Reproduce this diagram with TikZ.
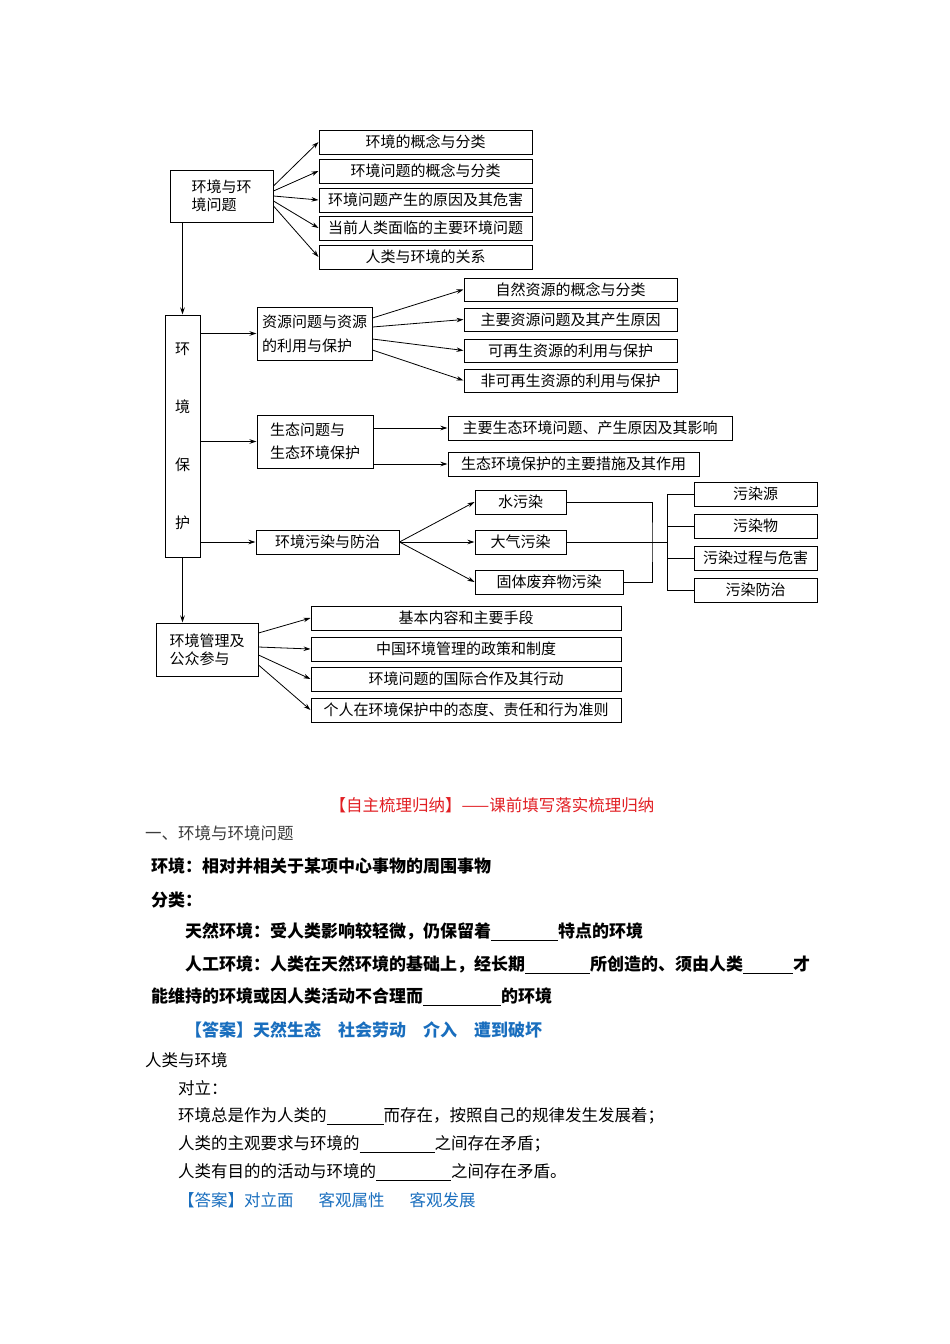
\documentclass[tikz,border=0pt]{standalone}
\usepackage{fontspec}
\setmainfont{Liberation Serif}
\newfontfamily\cjk{Noto Sans CJK SC}
\usetikzlibrary{arrows.meta}

\definecolor{titlered}{RGB}{225,30,35}
\definecolor{ansblue}{RGB}{25,110,190}
\definecolor{headgray}{RGB}{60,60,60}

\newcommand{\boxfont}{\cjk\fontsize{15}{18}\selectfont}
\newcommand{\txtfont}{\cjk\fontsize{16.5}{20}\selectfont}
\newcommand{\boldfont}{\cjk\fontsize{17}{20}\selectfont\bfseries}
\newcommand{\blank}[1]{\rule[-3pt]{#1pt}{0.9pt}}

\tikzset{
  box/.style={draw, line width=1pt, minimum height=24pt, inner sep=0pt, font=\boxfont},
  bigbox/.style={box, align=left, minimum height=53pt},
  conn/.style={line width=0.8pt},
  txt/.style={anchor=west, inner sep=0pt, font=\txtfont},
  boldtxt/.style={txt, font=\boldfont}
}

\begin{document}
\begin{tikzpicture}[x=1pt, y=-1pt, >={Stealth[length=7pt,width=4.5pt]}]
	\useasboundingbox (0,0) rectangle (950,1344);

	% main column
	\node[bigbox, minimum width=103pt, minimum height=52pt] (ENV) at (221.5,196)  {环境与环\\境问题};
	\node[box, minimum width=35pt, minimum height=242pt, align=center,
	      font=\cjk\fontsize{15}{58}\selectfont] (PROT) at (182.5,436) {环\\境\\保\\护};
	\node[bigbox, minimum width=102pt] (MGT) at (207,649.5) {环境管理及\\公众参与};

	% environment and its problems
	\node[box, minimum width=213pt] (E1) at (425.5,142) {环境的概念与分类};
	\node[box, minimum width=213pt] (E2) at (425.5,171) {环境问题的概念与分类};
	\node[box, minimum width=213pt] (E3) at (425.5,200) {环境问题产生的原因及其危害};
	\node[box, minimum width=213pt] (E4) at (425.5,228) {当前人类面临的主要环境问题};
	\node[box, minimum width=213pt] (E5) at (425.5,257) {人类与环境的关系};

	% resources
	\node[bigbox, minimum width=115pt] (RES) at (314.5,333.5) {资源问题与资源\\[6pt]的利用与保护};
	\node[box, minimum width=213pt, minimum height=23pt] (R1) at (570.5,289.5) {自然资源的概念与分类};
	\node[box, minimum width=213pt, minimum height=23pt] (R2) at (570.5,319.5) {主要资源问题及其产生原因};
	\node[box, minimum width=213pt, minimum height=23pt] (R3) at (570.5,350.5) {可再生资源的利用与保护};
	\node[box, minimum width=213pt, minimum height=23pt] (R4) at (570.5,380.5) {非可再生资源的利用与保护};

	% ecology
	\node[bigbox, minimum width=116pt] (ECO) at (315,441.5) {生态问题与\\[5pt]生态环境保护};
	\node[box, minimum width=284pt] (S1) at (590,428) {主要生态环境问题、产生原因及其影响};
	\node[box, minimum width=251pt] (S2) at (573.5,464) {生态环境保护的主要措施及其作用};

	% pollution
	\node[box, minimum width=143pt] (POL) at (327.5,542) {环境污染与防治};
	\node[box, minimum width=91pt] (W1) at (520.5,502) {水污染};
	\node[box, minimum width=91pt] (W2) at (520.5,542) {大气污染};
	\node[box, minimum width=148pt] (W3) at (549,582) {固体废弃物污染};
	\node[box, minimum width=123pt] (P1) at (755.5,494) {污染源};
	\node[box, minimum width=123pt] (P2) at (755.5,526) {污染物};
	\node[box, minimum width=123pt] (P3) at (755.5,558) {污染过程与危害};
	\node[box, minimum width=123pt] (P4) at (755.5,590) {污染防治};
	\coordinate (JW) at (652,542);
	\coordinate (BR) at (667,542);

	% management
	\node[box, minimum width=310pt] (M1) at (466,618) {基本内容和主要手段};
	\node[box, minimum width=310pt] (M2) at (466,649) {中国环境管理的政策和制度};
	\node[box, minimum width=310pt] (M3) at (466,679) {环境问题的国际合作及其行动};
	\node[box, minimum width=310pt] (M4) at (466,710) {个人在环境保护中的态度、责任和行为准则};

	\path[->, conn] (ENV.south -| PROT.north) edge (PROT.north)
	                (PROT.south) edge (PROT.south |- MGT.north)
	                (PROT.east |- RES.west) edge (RES.west)
	                (PROT.east |- ECO.west) edge (ECO.west)
	                (PROT.east |- POL.west) edge (POL.west);

	\path[->, conn] ([yshift=10pt]ENV.east)  edge (E1.west)
	                ([yshift=5pt]ENV.east)   edge (E2.west)
	                (ENV.east)               edge (E3.west)
	                ([yshift=-5pt]ENV.east)  edge (E4.west)
	                ([yshift=-10pt]ENV.east) edge (E5.west);

	\path[->, conn] ([yshift=15.5pt]RES.east)  edge (R1.west)
	                ([yshift=6.5pt]RES.east)   edge (R2.west)
	                ([yshift=-5.5pt]RES.east)  edge (R3.west)
	                ([yshift=-16.5pt]RES.east) edge (R4.west);

	\path[->, conn] (ECO.east |- S1.west) edge (S1.west)
	                (ECO.east |- S2.west) edge (S2.west);

	\path[->, conn] (POL.east) edge (W1.west)
	                (POL.east) edge (W2.west)
	                (POL.east) edge (W3.west);

	\draw[conn] (W1.east) -| (JW) |- (W3.east);
	\draw[conn] (W2.east) -- (BR);
	\draw[conn] (BR |- P1.west) -- (BR |- P4.west);
	\foreach \p in {P1,P2,P3,P4}
		\draw[conn] (BR |- \p.west) -- (\p.west);

	\path[->, conn] ([yshift=16.5pt]MGT.east)  edge (M1.west)
	                ([yshift=2.5pt]MGT.east)   edge (M2.west)
	                ([yshift=-5.5pt]MGT.east)  edge (M3.west)
	                ([yshift=-15.5pt]MGT.east) edge (M4.west);

	% text below the chart
	\node[txt, anchor=center, text=titlered] (T0) at (492,805) {【自主梳理归纳】——课前填写落实梳理归纳};
	\node[txt, text=headgray] (T1) at (145,833) {一、环境与环境问题};
	\node[boldtxt] (T2) at (151,866) {环境：相对并相关于某项中心事物的周围事物};
	\node[boldtxt] (T3) at (151,900) {分类：};
	\node[boldtxt] (T4) at (185,932) {天然环境：受人类影响较轻微，仍保留着\blank{67}特点的环境};
	\node[boldtxt] (T5) at (185,965) {人工环境：人类在天然环境的基础上，经长期\blank{65}所创造的、须由人类\blank{50}才};
	\node[boldtxt] (T6) at (151,997) {能维持的环境或因人类活动不合理而\blank{78}的环境};
	\node[boldtxt, text=ansblue] (T7) at (185,1030) {【答案】天然生态\hspace{17pt}社会劳动\hspace{17pt}介入\hspace{17pt}遭到破坏};
	\node[txt] (T8) at (145,1060) {人类与环境};
	\node[txt] (T9) at (178,1088) {对立：};
	\node[txt] (T10) at (178,1116) {环境总是作为人类的\blank{57}而存在，按照自己的规律发生发展着；};
	\node[txt] (T11) at (178,1144) {人类的主观要求与环境的\blank{75}之间存在矛盾；};
	\node[txt] (T12) at (178,1172) {人类有目的的活动与环境的\blank{75}之间存在矛盾。};
	\node[txt, text=ansblue] (T13) at (178,1200) {【答案】对立面\hspace{25pt}客观属性\hspace{25pt}客观发展};
\end{tikzpicture}
\end{document}
